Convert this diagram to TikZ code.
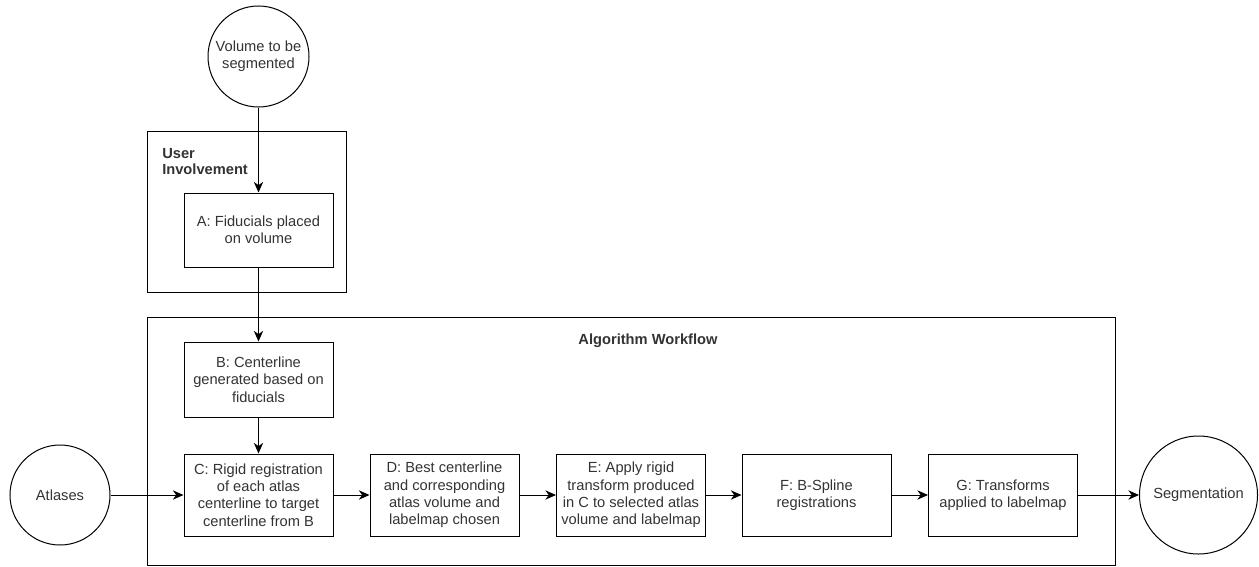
\documentclass[tikz,border=0pt]{standalone}
\usepackage{fontspec}
\setmainfont{Liberation Sans}
\usetikzlibrary{arrows.meta}

\begin{document}
\begin{tikzpicture}[
    x=0.75pt, y=-0.75pt,
    box/.style={draw, line width=0.75pt, minimum width=111.75pt, minimum height=61.5pt, align=center, inner sep=2pt, text=black!80},
    ring/.style={draw, circle, line width=0.75pt, align=center, inner sep=0pt, text=black!80},
    frame/.style={draw, line width=0.75pt},
    title/.style={font=\fontsize{11}{12}\selectfont\bfseries, text=black!80, inner sep=0pt},
    >={Stealth[length=8pt, width=7pt, inset=2.5pt]},
    font=\fontsize{11}{13}\selectfont
]
    \useasboundingbox (0,0) rectangle (1259,567);

    % 外框 (2个分组)
    \draw[frame] (147,131) rectangle (346,292);   % 用户参与
    \draw[frame] (147,317) rectangle (1115,565);  % 算法流程
    \node[title, align=left, anchor=north west] (USR) at (162,148) {User\\Involvement};
    \node[title] (ALG) at (648,341) {Algorithm Workflow};

    % 节点定义 (3个圆, 7个方框)
    \node[ring, minimum size=75.75pt] (VOL) at (258.5,56.5) {Volume to be\\segmented};
    \node[ring, minimum size=75pt] (ATL) at (60,495) {Atlases};
    \node[ring, minimum size=88.5pt] (SEG) at (1198.5,495) {Segmentation};

    \node[box, minimum height=55.5pt] (A) at (258.5,230) {A: Fiducials placed\\on volume};
    \node[box, minimum height=56.25pt] (B) at (258.5,379.5) {B: Centerline\\generated based on\\fiducials};
    \node[box] (C) at (258.5,495) {C: Rigid registration\\of each atlas\\centerline to target\\centerline from B};
    \node[box] (D) at (444.5,495) {D: Best centerline\\and corresponding\\atlas volume and\\labelmap chosen};
    \node[box] (E) at (631,495) {E: Apply rigid\\transform produced\\in C to selected atlas\\volume and labelmap};
    \node[box] (F) at (816.5,495) {F: B-Spline\\registrations};
    \node[box] (G) at (1003,495) {G: Transforms\\applied to labelmap};

    % 1. 竖直方向的箭头
    \draw[->, line width=0.75pt] (VOL) -- (A);
    \draw[->, line width=0.75pt] (A) -- (B);
    \draw[->, line width=0.75pt] (B) -- (C);

    % 2. 水平方向的箭头
    \draw[->, line width=0.75pt] (ATL) -- (C);
    \draw[->, line width=0.75pt] (C) -- (D);
    \draw[->, line width=0.75pt] (D) -- (E);
    \draw[->, line width=0.75pt] (E) -- (F);
    \draw[->, line width=0.75pt] (F) -- (G);
    \draw[->, line width=0.75pt] (G) -- (SEG);

\end{tikzpicture}
\end{document}
